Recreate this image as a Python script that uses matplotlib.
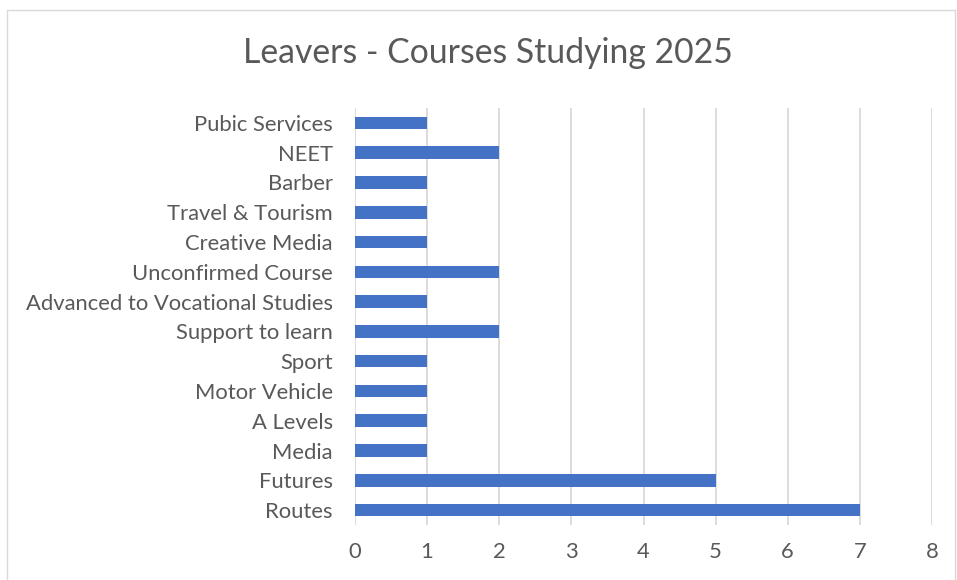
import matplotlib
matplotlib.use("Agg")
import matplotlib.pyplot as plt
from matplotlib.patches import Rectangle

# data, bottom to top as drawn
courses = ["Routes", "Futures", "Media", "A Levels", "Motor Vehicle", "Sport",
           "Support to learn", "Advanced to Vocational Studies", "Unconfirmed Course",
           "Creative Media", "Travel & Tourism", "Barber", "NEET", "Pubic Services"]
counts = [7, 5, 1, 1, 1, 1, 2, 1, 2, 1, 1, 1, 2, 1]
x_ticks = [0, 1, 2, 3, 4, 5, 6, 7, 8]

txt = "#595959"
plt.rcParams["font.family"] = ["Lato", "DejaVu Sans"]

fig = plt.figure(figsize=(9.57, 5.80), dpi=100)
W, H = 957, 580
ax = fig.add_axes([355 / W, 1 - 525 / H, (932 - 355) / W, (525 - 108) / H])

ypos = list(range(len(courses)))
ax.barh(ypos, counts, height=0.42, color="#4472C4", zorder=3)

ax.set_xlim(0, 8)
ax.set_ylim(-0.5, len(courses) - 0.5)
ax.set_xticks(x_ticks)
ax.set_xticklabels([str(t) for t in x_ticks])
ax.set_yticks(ypos)
ax.set_yticklabels(courses)
ax.tick_params(axis="both", length=0, labelsize=15.8, colors=txt)
ax.tick_params(axis="x", pad=12)
ax.tick_params(axis="y", pad=16)
ax.grid(axis="x", color="#d9d9d9", linewidth=1.3, zorder=0)
for s in ax.spines.values():
    s.set_visible(False)

fig.text(488 / W, 1 - 53 / H, "Leavers - Courses Studying 2025", ha="center", va="center",
         fontsize=24.3, color=txt)

# chart border
fig.add_artist(Rectangle((7 / W, -0.01), (955 - 7) / W, 1 - 10 / H + 0.01,
                         transform=fig.transFigure, fill=False, edgecolor="#d9d9d9", linewidth=1))

fig.savefig("out.png", dpi=100)
